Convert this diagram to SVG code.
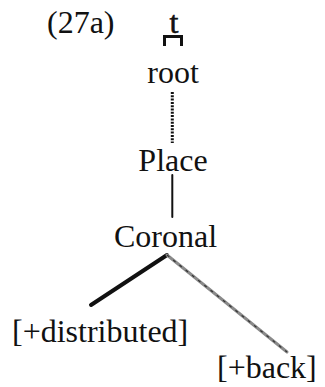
<svg xmlns="http://www.w3.org/2000/svg" width="325" height="387" viewBox="0 0 325 387">
  <style>
    .lbl { font-family: "Liberation Serif", "Times New Roman", serif; font-size: 32px; fill: #111; }
    .solid { stroke: #111; fill: none; stroke-linecap: round; }
    .dots { stroke: #111; stroke-width: 3; stroke-dasharray: 2 1.3; fill: none; }
    .shaded { stroke: #8a8a8a; stroke-width: 3; fill: none; stroke-linecap: round; }
    .speckle { stroke: #333; stroke-width: 1.2; stroke-dasharray: 3 5; fill: none; }
  </style>
  <rect width="325" height="387" fill="#fff"/>

  <g id="example-number">
    <text class="lbl" x="47" y="33">(27a)</text>
  </g>

  <g id="segment-t">
    <text class="lbl" x="174" y="33" font-size="30" text-anchor="middle" stroke="#111" stroke-width="0.6">t</text>
    <!-- timing slot bracket under the segment -->
    <path d="M163 46 V35 H183 V46 H180 V38 H166 V46 Z" fill="#111"/>
  </g>

  <g id="root">
    <text class="lbl" x="173" y="83" text-anchor="middle">root</text>
  </g>

  <g id="place">
    <text class="lbl" x="173" y="171" text-anchor="middle">Place</text>
  </g>

  <g id="coronal">
    <text class="lbl" x="114" y="247">Coronal</text>
  </g>

  <g id="distributed">
    <text class="lbl" x="12" y="342">[+distributed]</text>
  </g>

  <g id="back">
    <text class="lbl" x="217" y="378">[+back]</text>
  </g>

  <g id="connectors">
    <line class="dots" x1="172.3" y1="92" x2="172.3" y2="143"/>
    <line class="solid" stroke-width="2" x1="172.3" y1="175" x2="172.3" y2="217"/>
    <line class="solid" stroke-width="4" x1="167" y1="255" x2="91" y2="305"/>
    <line class="shaded" x1="167" y1="255" x2="287" y2="352"/>
    <line class="speckle" x1="167" y1="255" x2="287" y2="352"/>
  </g>
</svg>
